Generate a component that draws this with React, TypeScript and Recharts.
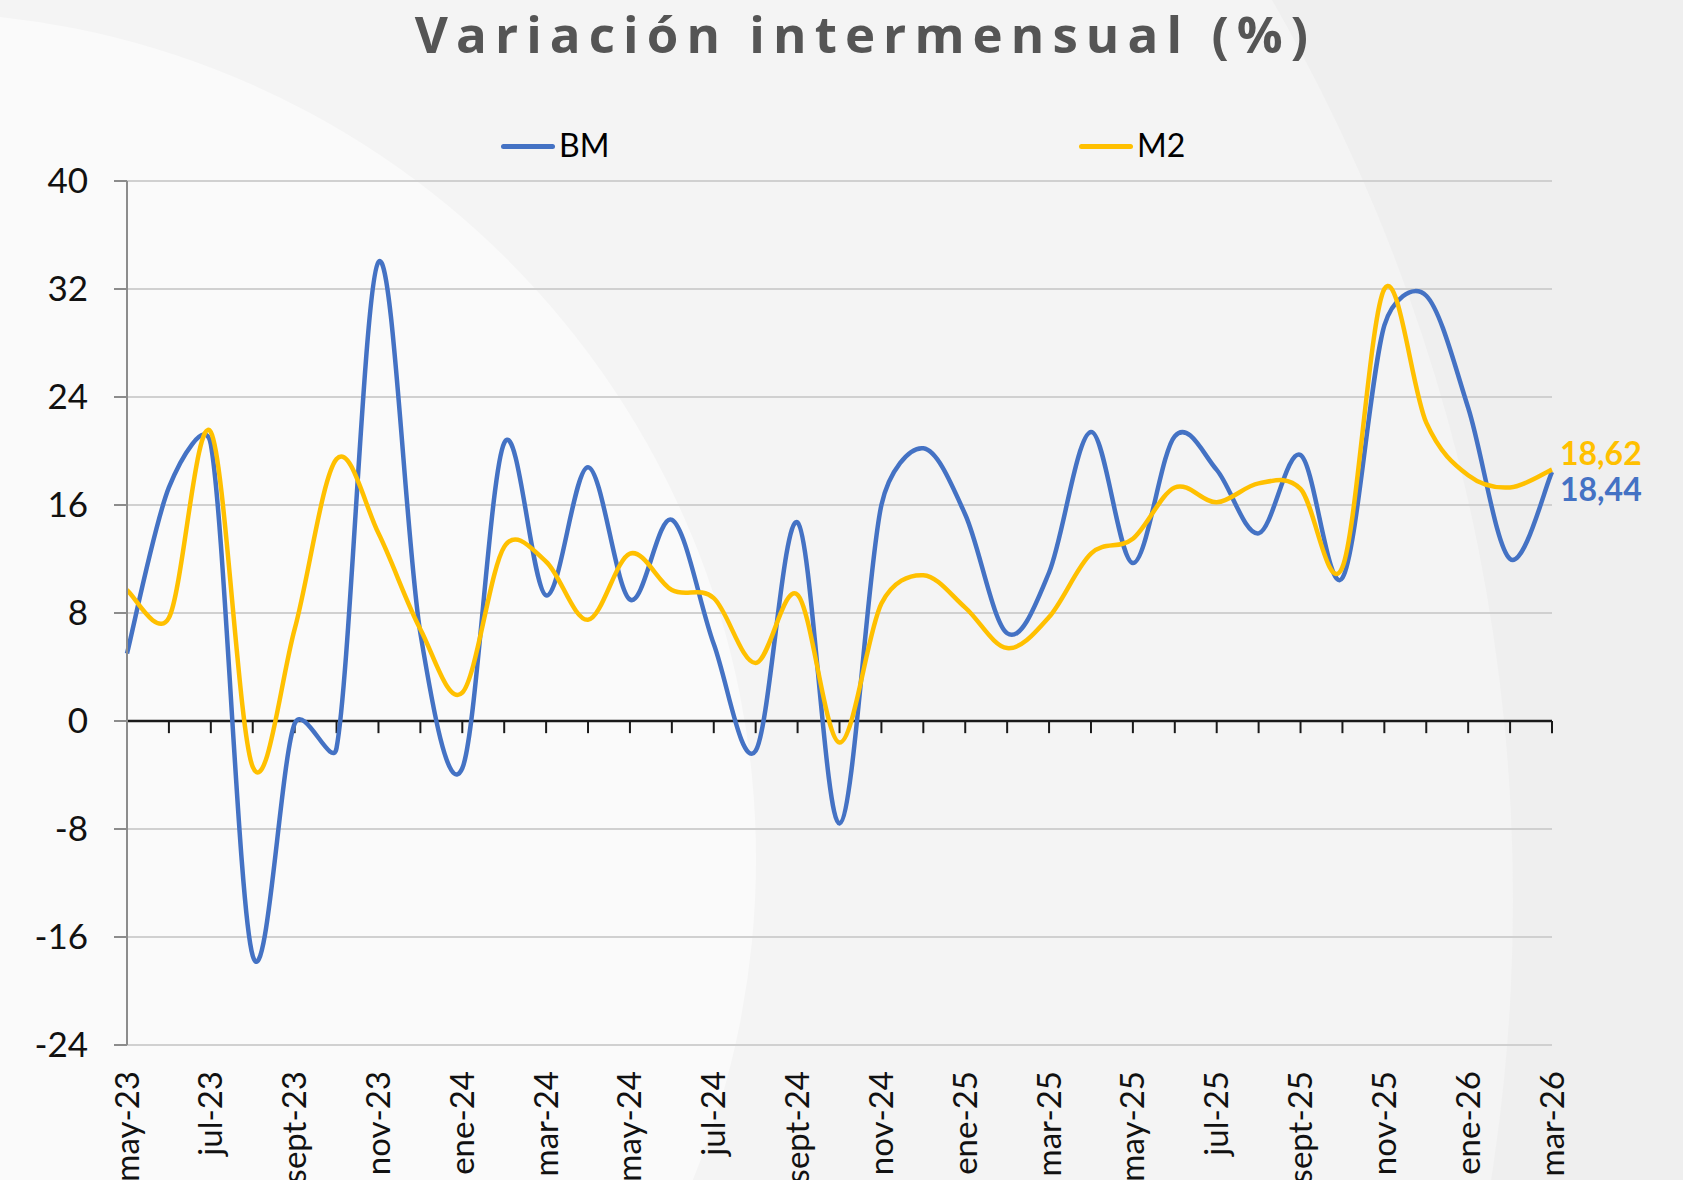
import React from 'react';
import { LineChart, Line, XAxis, YAxis, CartesianGrid, ReferenceLine, Legend, LabelList } from 'recharts';

const months = [
  'may-23', 'jun-23', 'jul-23', 'ago-23', 'sept-23', 'oct-23', 'nov-23', 'dic-23',
  'ene-24', 'feb-24', 'mar-24', 'abr-24', 'may-24', 'jun-24', 'jul-24', 'ago-24',
  'sept-24', 'oct-24', 'nov-24', 'dic-24', 'ene-25', 'feb-25', 'mar-25', 'abr-25',
  'may-25', 'jun-25', 'jul-25', 'ago-25', 'sept-25', 'oct-25', 'nov-25', 'dic-25',
  'ene-26', 'feb-26', 'mar-26',
];

const bmValues = [
  5.0, 17.3, 20.5, -17.4, -0.2, -2.0, 34.0, 6.5,
  -3.5, 20.6, 9.3, 18.8, 9.0, 14.9, 5.7, -2.2,
  14.7, -7.6, 16.0, 20.2, 15.3, 6.5, 11.0, 21.4,
  11.7, 21.1, 18.6, 13.9, 19.7, 10.6, 29.3, 31.5,
  23.2, 12.0, 18.44,
];

const m2Values = [
  9.7, 7.65, 21.4, -3.4, 6.8, 19.4, 13.9, 6.8,
  2.1, 12.9, 11.8, 7.5, 12.4, 9.7, 9.1, 4.3,
  9.35, -1.6, 8.7, 10.8, 8.4, 5.4, 7.7, 12.4,
  13.5, 17.3, 16.2, 17.6, 17.2, 11.4, 32.0, 22.1,
  18.2, 17.3, 18.62,
];

const yTicks = [-24, -16, -8, 0, 8, 16, 24, 32, 40];

const data = months.map((m, i) => ({ m, bm: bmValues[i], m2: m2Values[i] }));

const BLUE = '#4472C4';
const YELLOW = '#FFC000';
const FONT = 'Lato, "Open Sans", sans-serif';

const dist = (a: number[], b: number[]) => Math.hypot(a[0] - b[0], a[1] - b[1]);

// Excel-like smoothed line: Bezier with 1/6 tangents, clamped to half the segment
const excelSmooth = (context: any) => {
  let pts: number[][] = [];
  return {
    areaStart() {},
    areaEnd() {},
    lineStart() {
      pts = [];
    },
    point(x: number, y: number) {
      pts.push([x, y]);
    },
    lineEnd() {
      if (!pts.length) return;
      context.moveTo(pts[0][0], pts[0][1]);
      for (let i = 0; i < pts.length - 1; i++) {
        const p0 = pts[Math.max(i - 1, 0)];
        const p1 = pts[i];
        const p2 = pts[i + 1];
        const p3 = pts[Math.min(i + 2, pts.length - 1)];
        const d02 = dist(p0, p2);
        const d12 = dist(p1, p2);
        const d13 = dist(p1, p3);
        let f1 = 1 / 6;
        let f2 = 1 / 6;
        if (d02 / 6 >= d12 / 2 && d02 > 0) f1 = d12 / d02 / 2;
        if (d13 / 6 >= d12 / 2 && d13 > 0) f2 = d12 / d13 / 2;
        context.bezierCurveTo(
          p1[0] + (p2[0] - p0[0]) * f1,
          p1[1] + (p2[1] - p0[1]) * f1,
          p2[0] - (p3[0] - p1[0]) * f2,
          p2[1] - (p3[1] - p1[1]) * f2,
          p2[0],
          p2[1]
        );
      }
    },
  };
};

const XTick = ({ x, y, payload }: any) => (
  <text
    x={x}
    y={y}
    transform={`rotate(-90, ${x}, ${y})`}
    textAnchor="end"
    dy="0.35em"
    fontFamily={FONT}
    fontSize={33}
    fill="#111"
  >
    {payload.value}
  </text>
);

const renderLegend = (props: any) => (
  <div style={{ display: 'flex' }}>
    {(props.payload || []).map((p: any) => (
      <div key={p.value} style={{ width: 578, flexShrink: 0, display: 'flex', alignItems: 'center' }}>
        <span
          style={{ display: 'inline-block', width: 54, height: 5, background: p.color, borderRadius: 3, marginRight: 4, marginTop: 2 }}
        />
        <span style={{ fontFamily: FONT, fontSize: 32, color: '#000', lineHeight: 1.2 }}>{p.value}</span>
      </div>
    ))}
  </div>
);

const endLabel = (color: string, dy: number) => (props: any) => {
  const { x, y, value, index } = props;
  if (index !== months.length - 1) return null;
  return (
    <text x={x + 8} y={y + dy} fill={color} fontFamily={FONT} fontWeight={700} fontSize={32}>
      {String(value).replace('.', ',')}
    </text>
  );
};

const App = () => {
  return (
    <div
      style={{ position: 'absolute', left: 0, top: 0, width: 1683, height: 1180, overflow: 'hidden', background: '#efefef' }}
    >
      <div
        style={{ position: 'absolute', left: -2089, top: -901, width: 3602, height: 3602, borderRadius: '50%', background: '#f4f4f4' }}
      />
      <div
        style={{ position: 'absolute', left: -938, top: 12, width: 1694, height: 1694, borderRadius: '50%', background: '#fafafa' }}
      />
      <div
        style={{
          position: 'absolute',
          left: 0,
          top: 3,
          width: 1683,
          paddingLeft: 48,
          boxSizing: 'border-box',
          textAlign: 'center',
          fontFamily: '"Open Sans", sans-serif',
          fontWeight: 700,
          fontSize: 51,
          lineHeight: 1.2,
          letterSpacing: 8.1,
          color: '#555555',
        }}
      >
        Variación intermensual (%)
      </div>
      <div style={{ position: 'absolute', left: 0, top: 0 }}>
        <LineChart width={1683} height={1180} data={data} margin={{ top: 181, right: 131, bottom: 0, left: 0 }}>
          <CartesianGrid vertical={false} stroke="#d0d0d0" strokeWidth={2} />
          <XAxis
            dataKey="m"
            interval={1}
            height={135}
            axisLine={false}
            tickLine={false}
            tickSize={0}
            tickMargin={26}
            tick={<XTick />}
          />
          <YAxis
            domain={[-24, 40]}
            ticks={yTicks}
            width={127}
            axisLine={{ stroke: '#8c8c8c', strokeWidth: 2 }}
            tickLine={{ stroke: '#8c8c8c', strokeWidth: 2 }}
            tickSize={13}
            tickMargin={26}
            tick={{ fontFamily: FONT, fontSize: 35, fill: '#111' }}
          />
          <ReferenceLine y={0} stroke="#1a1a1a" strokeWidth={2.5} />
          {months.map((m) => (
            <ReferenceLine
              key={m}
              segment={[{ x: m, y: 0 }, { x: m, y: -0.9 }]}
              stroke="#1a1a1a"
              strokeWidth={2}
            />
          ))}
          <Legend
            layout="horizontal"
            verticalAlign="middle"
            align="center"
            wrapperStyle={{ left: 501, top: 126, width: 1160 }}
            content={renderLegend}
          />
          <Line
            type={excelSmooth as any}
            dataKey="bm"
            name="BM"
            stroke={BLUE}
            strokeWidth={4.5}
            dot={false}
            activeDot={false}
            isAnimationActive={false}
          >
            <LabelList dataKey="bm" content={endLabel(BLUE, 29)} />
          </Line>
          <Line
            type={excelSmooth as any}
            dataKey="m2"
            name="M2"
            stroke={YELLOW}
            strokeWidth={4.5}
            dot={false}
            activeDot={false}
            isAnimationActive={false}
          >
            <LabelList dataKey="m2" content={endLabel(YELLOW, -4.3)} />
          </Line>
        </LineChart>
      </div>
    </div>
  );
};

export default App;
